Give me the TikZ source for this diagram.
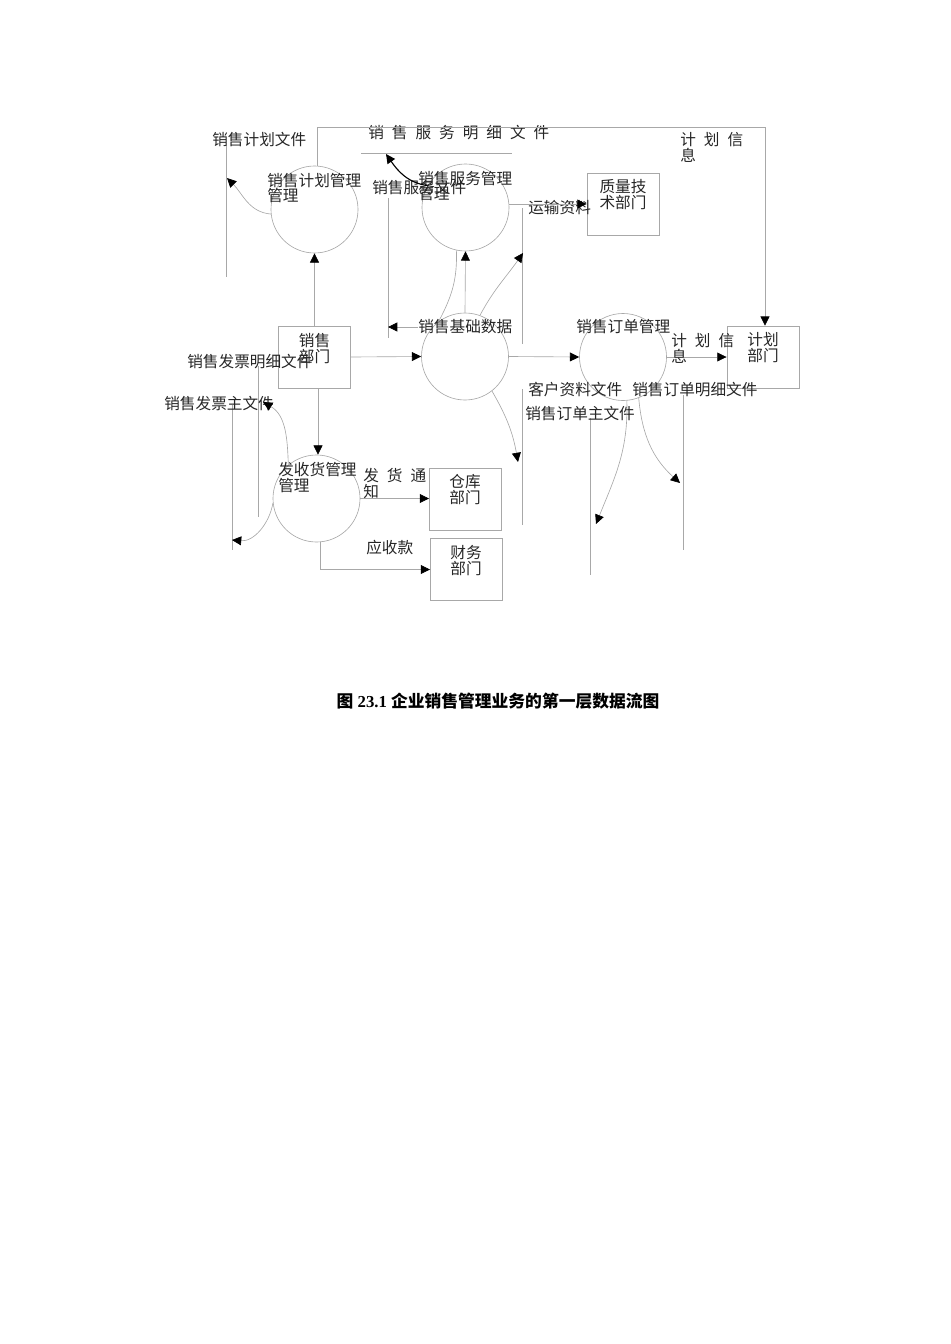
\documentclass[tikz,border=0pt]{standalone}
\usepackage{fontspec}
\setmainfont{Liberation Serif}
\newfontfamily\cjk{Noto Sans CJK SC}
\usetikzlibrary{arrows.meta}
\definecolor{linegray}{gray}{0.66}
\definecolor{textgray}{gray}{0.15}
\newcommand{\kgap}{\hspace{5pt}}
\tikzset{
  proc/.style={circle,draw=linegray,line width=0.4pt,minimum size=54.5pt,inner sep=0pt},
  dept/.style={rectangle,draw=linegray,line width=0.4pt,minimum width=45.3pt,minimum height=38.8pt,inner sep=0pt},
  lbl/.style={inner sep=0pt,text=textgray,font=\cjk\fontsize{9.8pt}{10pt}\selectfont,align=left},
  store/.style={draw=linegray,line width=0.4pt},
  flow/.style={draw=linegray,line width=0.4pt,-{Triangle[length=5.8pt,width=5.6pt,color=black]}},
}
\begin{document}
\begin{tikzpicture}[x=0.6264pt,y=-0.6264pt]
\useasboundingbox (0,0) rectangle (950,1344);

% processes
\node[proc] (plan) at (314.5,209.5) {};
\node[proc] (service) at (465.5,207.5) {};
\node[proc] (base) at (465,356.5) {};
\node[proc] (order) at (623,357) {};
\node[proc] (ship) at (316.5,498.5) {};
\node[lbl,anchor=north west] (plan-t) at (267,172.5) {销售计划管理\\管理};
\node[lbl,anchor=north west] (service-t) at (418,170.5) {销售服务管理\\管理};
\node[lbl,anchor=west] (base-t) at (418,327) {销售基础数据};
\node[lbl,anchor=west] (order-t) at (576,327) {销售订单管理};
\node[lbl,anchor=north west] (ship-t) at (278,461.5) {发收货管理\\管理};

% departments
\node[dept] (quality) at (623,204) {};
\node[dept] (sales) at (314.5,357) {};
\node[dept] (plandept) at (763,357) {};
\node[dept] (warehouse) at (465.5,499) {};
\node[dept] (finance) at (466.5,569.5) {};
\node[lbl,align=center,anchor=north] (quality-t) at (623,179.5) {质量技\\术部门};
\node[lbl,align=center,anchor=north] (sales-t) at (314.5,333) {销售\\部门};
\node[lbl,align=center,anchor=north] (plandept-t) at (763,332.5) {计划\\部门};
\node[lbl,align=center,anchor=north] (warehouse-t) at (465,474.5) {仓库\\部门};
\node[lbl,align=center,anchor=north] (finance-t) at (466,545.5) {财务\\部门};

% data stores
\draw[store] (226,145) -- (226,277);
\draw[store] (361,153) -- (512,153);
\draw[store] (388,198) -- (388,338);
\draw[store] (522,208) -- (522,344);
\draw[store] (522,389) -- (522,525);
\draw[store] (590,418) -- (590,575);
\draw[store] (683,395) -- (683,550);
\draw[store] (258,366) -- (258,517);
\draw[store] (232,405) -- (232,550);
\node[lbl,anchor=west] (fplan-t) at (212,140) {销售计划文件};
\node[lbl,anchor=west] (fsdetail-t) at (368,133) {销\kgap 售\kgap 服\kgap 务\kgap 明\kgap 细\kgap 文\kgap 件};
\node[lbl,anchor=west] (fservice-t) at (372,188) {销售服务文件};
\node[lbl,anchor=west] (ftrans-t) at (528,208) {运输资料};
\node[lbl,anchor=west] (fidetail-t) at (187,362) {销售发票明细文件};
\node[lbl,anchor=west] (fimain-t) at (164,404) {销售发票主文件};
\node[lbl,anchor=west] (fcust-t) at (528,390) {客户资料文件};
\node[lbl,anchor=west] (fodetail-t) at (632,390) {销售订单明细文件};
\node[lbl,anchor=west] (fomain-t) at (525,414) {销售订单主文件};

% flow ends on the stores
\coordinate (fplan-in) at (227,178);
\coordinate (fsdetail-in) at (386,154);
\coordinate (fservice-in) at (388,327);
\coordinate (ftrans-in) at (523,253);
\coordinate (fcust-in) at (518,462);
\coordinate (fomain-in) at (596,524);
\coordinate (fodetail-in) at (680,483);
\coordinate (fimain-in) at (232,540);
\coordinate (fidetail-in) at (263,402);
\coordinate (tl) at (317,127);
\coordinate (tr) at (765,127);

% flows
\draw[flow] (sales.north) -- (plan.south);
\draw[flow] (sales.east) -- (base.west);
\draw[flow] ([xshift=2.2pt]sales.south) -- ([xshift=2.2pt]sales.south |- ship.north);
\draw[flow] (base.east) -- (order.west);
\draw[flow] (order.east) -- (plandept.west);
\draw[flow] (base.north) -- (service.south);
\draw[flow] (quality.west -| service.east) -- (quality.west);
\draw[flow] (tl |- plan.north) -- (tl) -- (tr) -- (tr |- plandept.north);
\draw[flow] (ship.east) -- (ship.east -| warehouse.west);
\draw[flow] ([xshift=2.5pt]ship.south) |- (finance.west);
\draw[flow] (plan.186) to[out=175,in=-45] (fplan-in);
\draw[flow,draw=black,line width=0.7pt] (service.150) to[out=172,in=-55] (fsdetail-in);
\draw[flow] (base-t.west) -- (fservice-in);
\draw[store] (service.258) to[out=-88,in=62] (base.127);
\draw[flow] (base.70) to[out=62,in=-125] (ftrans-in);
\draw[flow] (base.-52) to[out=-60,in=100] (fcust-in);
\draw[flow] (order.-85) to[out=-88,in=68] (fomain-in);
\draw[flow] (order.-69) to[out=-85,in=138] (fodetail-in);
\draw[flow] (ship.186) to[out=-100,in=-5] (fimain-in);
\draw[flow] (ship.130) to[out=92,in=-30] (fidetail-in);

% flow labels
\node[lbl,anchor=north west] (info1-t) at (680,132.5) {计\kgap 划\kgap 信\\息};
\node[lbl,anchor=north west] (info2-t) at (671,333.5) {计\kgap 划\kgap 信\\息};
\node[lbl,anchor=north west] (notice-t) at (363,467.5) {发\kgap 货\kgap 通\\知};
\node[lbl,anchor=west] (recv-t) at (366,548) {应收款};

% caption
\node[inner sep=0pt,font=\fontsize{10.5pt}{12pt}\selectfont\bfseries] (caption) at (498,701)
  {{\cjk 图} 23.1 {\cjk 企业销售管理业务的第一层数据流图}};
\end{tikzpicture}
\end{document}
